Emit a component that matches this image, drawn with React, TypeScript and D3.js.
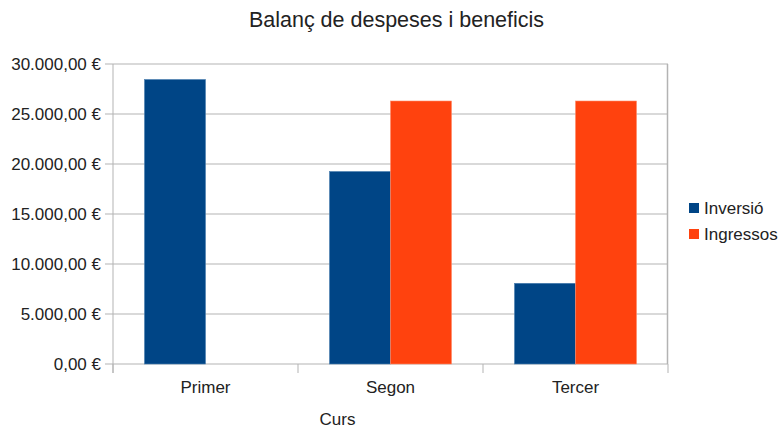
import React from "react";
import * as d3 from "d3";

const categories = ["Primer", "Segon", "Tercer"];
const seriesNames = ["Inversió", "Ingressos"];
const inversio = [28450, 19250, 8070];
const ingressos: (number | null)[] = [null, 26300, 26300];
const yTicks = [0, 5000, 10000, 15000, 20000, 25000, 30000];
const colors = ["#004586", "#ff420e"];
const strokes = ["#4a7fb0", "#ff8a6a"];

const W = 779;
const H = 429;
const left = 113;
const right = 668;
const top = 64;
const bottom = 364;
const FONT = "'Liberation Sans', Arial, sans-serif";

const fmt = (v: number) => {
  const s = d3.format(",.2f")(v);
  return s.replace(/,/g, "#").replace(".", ",").replace(/#/g, ".") + " €";
};

export default function App() {
  const x = d3.scaleBand<string>().domain(categories).range([left, right]).padding(0);
  const x1 = d3
    .scaleBand<string>()
    .domain(seriesNames)
    .range([0, x.bandwidth()])
    .paddingInner(0)
    .paddingOuter(0.516);
  const y = d3.scaleLinear().domain([0, 30000]).range([bottom, top]);
  const values = [inversio, ingressos];
  const grid = "#b3b3b3";
  const boundaries = [...categories.map((c) => x(c) as number), right];

  return (
    <svg
      width={W}
      height={H}
      style={{ position: "absolute", left: 0, top: 0, background: "#fff" }}
      fontFamily={FONT}
    >
      <rect x={0} y={0} width={W} height={H} fill="#fff" />
      <text x={396.5} y={27} textAnchor="middle" fontSize={21.5} fill="#222">
        Balanç de despeses i beneficis
      </text>
      {yTicks.map((t) => (
        <g key={t}>
          <line x1={left} x2={right} y1={y(t)} y2={y(t)} stroke={grid} strokeWidth={1} />
          <line x1={105} x2={left} y1={y(t)} y2={y(t)} stroke={grid} strokeWidth={1} />
          <text x={101} y={y(t)} dy="0.35em" textAnchor="end" fontSize={17} fill="#222">
            {fmt(t)}
          </text>
        </g>
      ))}
      <line x1={left} x2={left} y1={top} y2={373} stroke={grid} strokeWidth={1} />
      <line x1={right - 0.5} x2={right - 0.5} y1={top} y2={bottom} stroke={grid} strokeWidth={1.5} />
      {boundaries.map((b, i) => (
        <line key={i} x1={b} x2={b} y1={bottom} y2={373} stroke={grid} strokeWidth={1} />
      ))}
      {categories.map((c, ci) =>
        seriesNames.map((s, si) => {
          const v = values[si][ci];
          if (v == null) return null;
          const bx = (x(c) as number) + (x1(s) as number);
          return (
            <rect
              key={c + s}
              x={bx}
              y={y(v)}
              width={x1.bandwidth()}
              height={bottom - y(v)}
              fill={colors[si]}
              stroke={strokes[si]}
              strokeWidth={0.6}
            />
          );
        })
      )}
      {categories.map((c) => (
        <text
          key={c}
          x={(x(c) as number) + x.bandwidth() / 2}
          y={393}
          textAnchor="middle"
          fontSize={17}
          fill="#222"
        >
          {c}
        </text>
      ))}
      <text x={337.5} y={425} textAnchor="middle" fontSize={17} fill="#222">
        Curs
      </text>
      {seriesNames.map((s, i) => (
        <g key={s}>
          <rect x={689} y={203 + i * 26} width={10} height={10} fill={colors[i]} />
          <text x={704} y={214 + i * 26} fontSize={17} fill="#222">
            {s}
          </text>
        </g>
      ))}
    </svg>
  );
}
